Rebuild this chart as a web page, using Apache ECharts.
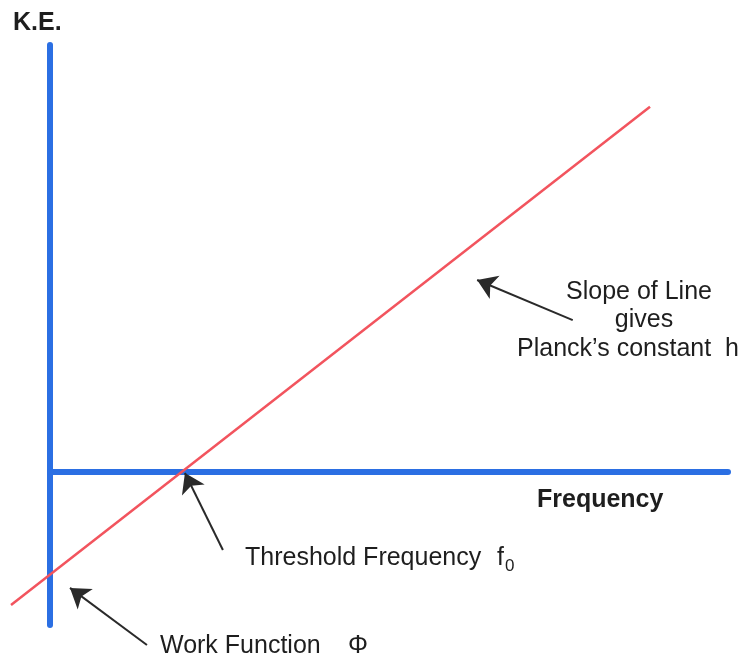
<!DOCTYPE html>
<html>
<head>
<meta charset="utf-8">
<script src="https://cdn.jsdelivr.net/npm/echarts@6/dist/echarts.min.js"></script>
<style>
  html, body { margin: 0; padding: 0; background: #fff; }
  #chart { width: 746px; height: 658px; }
</style>
</head>
<body>
<div id="chart"></div>
<script>
// axis ranges (arbitrary units, no ticks shown)
const freqRange = [0, 10]
const keRange = [-3.6, 10]

// K.E. vs frequency line (two end points)
const lineFreq = [-0.575, 8.85]
const lineKE = [-3.13, 8.55]

// annotation arrows: tail -> tip
const arrowTails = [[2.55, -1.84], [1.43, -4.07], [7.71, 3.55]]
const arrowTips = [[1.99, -0.035], [0.295, -2.73], [6.30, 4.49]]

const blue = '#2b6fe3'
const red = '#f2545e'
const ink = '#1e1e1e'
const font = '"Liberation Sans", Arial, sans-serif'

const chart = echarts.init(document.getElementById('chart'))

function label(text, x, y, opts) {
  return {
    type: 'text',
    x: x,
    y: y,
    style: Object.assign({
      text: text,
      fill: ink,
      font: '25px ' + font,
      verticalAlign: 'middle'
    }, opts || {})
  }
}

chart.setOption({
  animation: false,
  grid: { left: 50, top: 45, width: 678, height: 580 },
  xAxis: {
    type: 'value',
    min: freqRange[0],
    max: freqRange[1],
    axisLine: { show: true, onZero: true, lineStyle: { color: blue, width: 6 } },
    axisTick: { show: false },
    axisLabel: { show: false },
    splitLine: { show: false }
  },
  yAxis: {
    type: 'value',
    min: keRange[0],
    max: keRange[1],
    axisLine: { show: true, onZero: true, lineStyle: { color: blue, width: 6 } },
    axisTick: { show: false },
    axisLabel: { show: false },
    splitLine: { show: false }
  },
  series: [
    {
      // K.E. = h f - phi
      type: 'lines',
      coordinateSystem: 'cartesian2d',
      clip: false,
      symbol: 'none',
      lineStyle: { color: red, width: 2.5, opacity: 1 },
      data: [{ coords: lineFreq.map((f, i) => [f, lineKE[i]]) }],
      z: 3
    },
    {
      type: 'lines',
      coordinateSystem: 'cartesian2d',
      clip: false,
      symbol: ['none', 'arrow'],
      symbolSize: 19,
      lineStyle: { color: '#2a2a2a', width: 2, opacity: 1 },
      data: arrowTails.map((t, i) => ({ coords: [t, arrowTips[i]] })),
      z: 4
    }
  ],
  graphic: [
    label('K.E.', 13, 23, { font: 'bold 25px ' + font }),
    label('Frequency', 537, 500, { font: 'bold 25px ' + font }),
    label('Slope of Line', 639, 292, { align: 'center' }),
    label('gives', 644, 320, { align: 'center' }),
    label('Planck\u2019s constant  h', 628, 349, { align: 'center' }),
    label('Threshold Frequency', 245, 558),
    label('f', 497, 558),
    label('0', 505, 566, { font: '17px ' + font }),
    label('Work Function', 160, 646),
    label('\u03A6', 348, 646)
  ]
})
</script>
</body>
</html>
